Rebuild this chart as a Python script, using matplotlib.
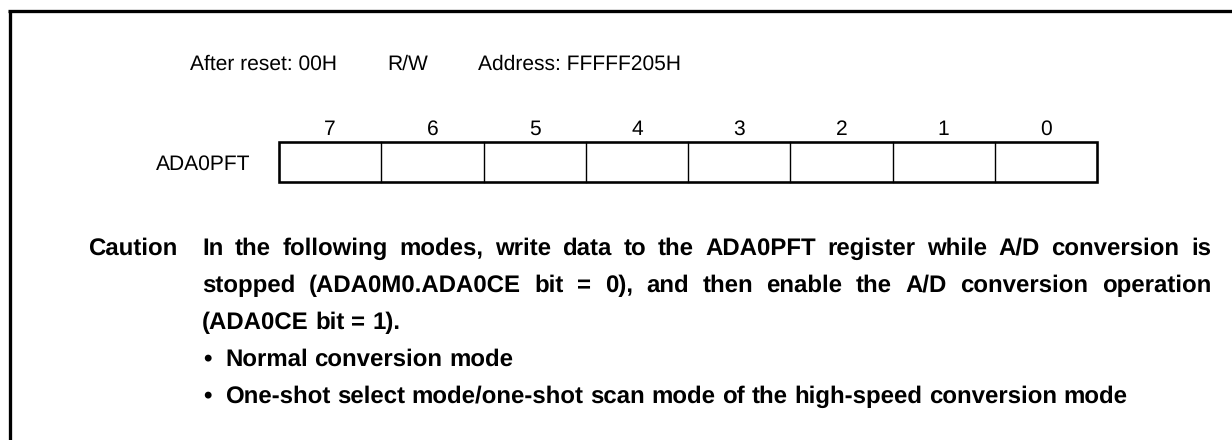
import matplotlib
matplotlib.use("Agg")
import matplotlib.pyplot as plt
from matplotlib.patches import Rectangle
from matplotlib.backends.backend_agg import get_hinting_flag

plt.rcParams['font.family'] = ['Liberation Sans', 'DejaVu Sans']
plt.rcParams['text.hinting'] = 'no_hinting'
plt.rcParams['text.hinting_factor'] = 1

# register info
reg_name = "ADA0PFT"
header = ["After reset: 00H", "R/W", "Address: FFFFF205H"]
header_x = [190, 387, 478]
bits = [7, 6, 5, 4, 3, 2, 1, 0]

caution_label = "Caution"
caution_lines = [
    "In the following modes, write data to the ADA0PFT register while A/D conversion is",
    "stopped (ADA0M0.ADA0CE bit = 0), and then enable the A/D conversion operation",
    "(ADA0CE bit = 1).",
]
justified = [True, True, False]
bullets = [
    "Normal conversion mode",
    "One-shot select mode/one-shot scan mode of the high-speed conversion mode",
]

W, H = 1232, 440
fig = plt.figure(figsize=(W / 100, H / 100), dpi=100)
ax = fig.add_axes([0, 0, 1, 1])
ax.set_xlim(0, W)
ax.set_ylim(H, 0)
ax.axis("off")
renderer = fig.canvas.get_renderer()

px = 72 / 100  # pixels -> points
reg_fs = 21 * px
bold_fs = 24 * px


def snap_baseline(t, base):
    # agg rounds each word bitmap on its own, so words of one line can land
    # a pixel or two apart; work out where it will go and move it back
    try:
        font = renderer._prepare_font(t.get_fontproperties())
        font.set_text(t.get_text(), 0, flags=get_hinting_flag())
        d26 = font.get_descent()
        _, h26 = font.get_width_height()
        img_h = h26 // 64 + 2
        r0 = int((h26 - d26) / 64 + 1)
        t.set_y((base - 1 + img_h - r0) - d26 / 64)
    except Exception:
        t.set_y(base)


def txt(x, base, s, **kw):
    t = ax.text(x, base, s, va="baseline", **kw)
    snap_baseline(t, base)
    return t


# outer frame (left and top only)
ax.plot([10, 10], [H, 11.5], color="black", lw=3.3 * px, solid_capstyle="butt")
ax.plot([8.3, W], [11.5, 11.5], color="black", lw=3.3 * px, solid_capstyle="butt")

# header line
for s, x in zip(header, header_x):
    txt(x, 70, s, fontsize=reg_fs, ha="left")

# register box
bx0, bx1, by0, by1 = 279, 1097, 142, 182
cw = (bx1 - bx0) / len(bits)
ax.add_patch(Rectangle((bx0, by0), bx1 - bx0, by1 - by0, fill=False,
                       edgecolor="black", lw=2.6 * px))
for i in range(1, len(bits)):
    ax.plot([bx0 + i * cw] * 2, [by0, by1], color="black", lw=1.4 * px)
for i, b in enumerate(bits):
    txt(bx0 + (i + 0.5) * cw, 135, str(b), fontsize=reg_fs, ha="center")
txt(250, 170, reg_name, fontsize=reg_fs, ha="right")

# caution text, one text per word so the lines can be justified
tx0, tx1 = 202, 1211
line_y = [255, 292, 329, 366, 403]


def bold(x, y, s):
    return txt(x, y, s, fontsize=bold_fs, fontweight="bold")


a1 = bold(0, 0, "a a")
a2 = bold(0, 0, "aa")
space_w = a1.get_window_extent(renderer).width - a2.get_window_extent(renderer).width
a1.remove()
a2.remove()


def put_line(s, y, x0, x1=None):
    words = s.split(" ")
    ts = [bold(0, y, w) for w in words]
    ws = [t.get_window_extent(renderer).width for t in ts]
    if x1 is None:
        gap = space_w
    else:
        gap = (x1 - x0 - sum(ws)) / (len(words) - 1)
    x = x0
    for t, w in zip(ts, ws):
        t.set_x(x)
        x += w + gap


bold(88, line_y[0], caution_label)

for s, y, j in zip(caution_lines, line_y, justified):
    put_line(s, y, tx0, tx1 if j else None)

for s, y in zip(bullets, line_y[3:]):
    bold(tx0 + 1, y, "\u2022")
    put_line(s, y, 225)

fig.savefig("out.png", dpi=100)
